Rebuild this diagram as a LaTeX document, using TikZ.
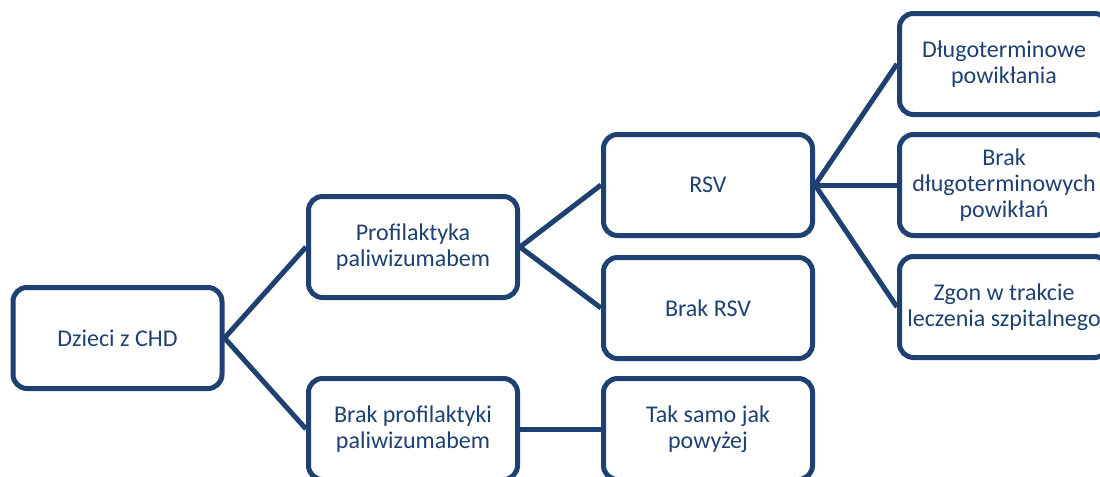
\documentclass[tikz,border=0pt]{standalone}
\usepackage{fontspec}
\setmainfont{Carlito}
\definecolor{navy}{RGB}{31,65,114}
\begin{document}
\begin{tikzpicture}[x=0.5pt,y=-0.5pt,
    box/.style={draw=navy,line width=2.5pt,rounded corners=7pt,fill=white,
      minimum width=104.5pt,minimum height=50.5pt,align=center,text=navy,
      font=\fontsize{12}{13}\selectfont,inner sep=2pt},
    link/.style={draw=navy,line width=2.5pt}]
      \clip (0,0) rectangle (1100,477);
      \useasboundingbox (0,0) rectangle (1100,477);
      \path (117.5,338) coordinate (d0)
        (413,247) coordinate (p0)
        (413,429) coordinate (b0)
        (708,185) coordinate (r0)
        (708,308) coordinate (n0)
        (708,429) coordinate (t0)
        (1004,64) coordinate (l0)
        (1004,185) coordinate (k0)
        (1004,307) coordinate (z0);
      \draw
        (d0) node[box] (dzieci){Dzieci z CHD}
        (p0) node[box] (profil){Profilaktyka\\paliwizumabem}
        (b0) node[box] (brakprofil){Brak profilaktyki\\paliwizumabem}
        (r0) node[box] (rsv){RSV}
        (n0) node[box] (brakrsv){Brak RSV}
        (t0) node[box] (taksamo){Tak samo jak\\powyżej}
        (l0) node[box] (powiklania){Długoterminowe\\powikłania}
        (k0) node[box] (brakpowiklan){Brak\\długoterminowych\\powikłań}
        (z0) node[box] (zgon){Zgon w trakcie\\leczenia szpitalnego};
      \begin{scope}[link]
        \draw (dzieci.east) to (profil.west);
        \draw (dzieci.east) to (brakprofil.west);
        \draw (profil.east) to (rsv.west);
        \draw (profil.east) to (brakrsv.west);
        \draw (brakprofil.east) to (taksamo.west);
        \draw (rsv.east) to (powiklania.west);
        \draw (rsv.east) to (brakpowiklan.west);
        \draw (rsv.east) to (zgon.west);
      \end{scope}
    \end{tikzpicture}
\end{document}
